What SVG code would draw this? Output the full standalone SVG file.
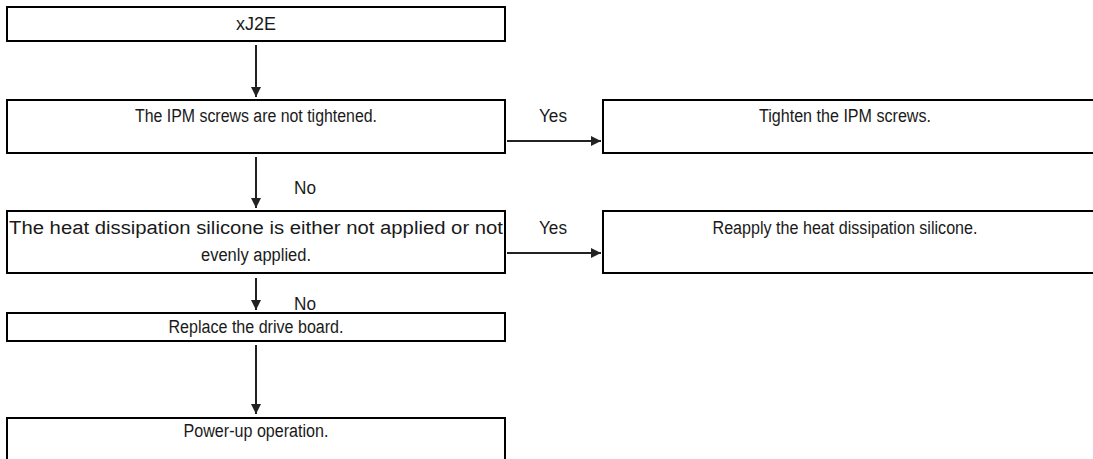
<svg xmlns="http://www.w3.org/2000/svg" width="1093" height="459" viewBox="0 0 1093 459">
<style>
.box{fill:#fff;stroke:#000;stroke-width:2}
.t{font-family:"Liberation Sans",Arial,sans-serif;font-size:18px;fill:#1a1a1a;text-anchor:middle}
.c{stroke:#222;stroke-width:2;fill:none}
</style>
<defs>
<marker id="ah" viewBox="0 0 10 10" refX="10" refY="5" markerWidth="5" markerHeight="5.5" orient="auto" markerUnits="strokeWidth">
<path d="M0,0 L10,5 L0,10 Z" fill="#222"/>
</marker>
</defs>
<rect width="1093" height="459" fill="#fff"/>
<g id="connectors">
<line class="c" x1="256" y1="45" x2="256" y2="97" marker-end="url(#ah)"/>
<line class="c" x1="256" y1="157" x2="256" y2="208" marker-end="url(#ah)"/>
<line class="c" x1="256" y1="278" x2="256" y2="310" marker-end="url(#ah)"/>
<line class="c" x1="256" y1="345" x2="256" y2="414" marker-end="url(#ah)"/>
<line class="c" x1="507" y1="141" x2="601" y2="141" marker-end="url(#ah)"/>
<line class="c" x1="507" y1="253" x2="601" y2="253" marker-end="url(#ah)"/>
<text class="t" x="305" y="194" textLength="22" lengthAdjust="spacingAndGlyphs">No</text>
<text class="t" x="305" y="310" textLength="22" lengthAdjust="spacingAndGlyphs">No</text>
<text class="t" x="553" y="122" textLength="28" lengthAdjust="spacingAndGlyphs">Yes</text>
<text class="t" x="553" y="234" textLength="28" lengthAdjust="spacingAndGlyphs">Yes</text>
</g>
<g id="n1"><rect class="box" x="7" y="7" width="498" height="34"/><text class="t" x="256" y="30" textLength="40" lengthAdjust="spacingAndGlyphs">xJ2E</text></g>
<g id="n2"><rect class="box" x="7" y="100" width="498" height="53"/><text class="t" x="256" y="122" textLength="242" lengthAdjust="spacingAndGlyphs">The IPM screws are not tightened.</text></g>
<g id="n3"><rect class="box" x="603" y="100" width="500" height="53"/><text class="t" x="845" y="122" textLength="172" lengthAdjust="spacingAndGlyphs">Tighten the IPM screws.</text></g>
<g id="n4"><rect class="box" x="7" y="211" width="498" height="62"/><text class="t" x="256" y="234" textLength="494" lengthAdjust="spacingAndGlyphs">The heat dissipation silicone is either not applied or not</text><text class="t" x="256" y="261" textLength="110" lengthAdjust="spacingAndGlyphs">evenly applied.</text></g>
<g id="n5"><rect class="box" x="603" y="211" width="500" height="62"/><text class="t" x="845" y="234" textLength="265" lengthAdjust="spacingAndGlyphs">Reapply the heat dissipation silicone.</text></g>
<g id="n6"><rect class="box" x="7" y="313" width="498" height="28"/><text class="t" x="256" y="333" textLength="175" lengthAdjust="spacingAndGlyphs">Replace the drive board.</text></g>
<g id="n7"><rect class="box" x="7" y="418" width="498" height="50"/><text class="t" x="256" y="437" textLength="145" lengthAdjust="spacingAndGlyphs">Power-up operation.</text></g>
</svg>
